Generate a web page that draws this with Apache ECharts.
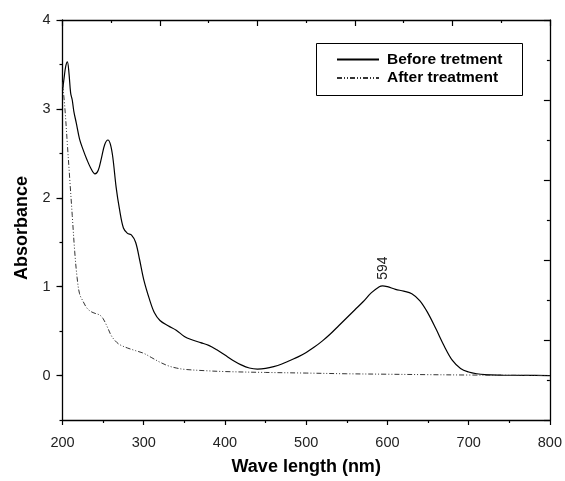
<!DOCTYPE html>
<html><head><meta charset="utf-8">
<script src="https://cdn.jsdelivr.net/npm/echarts@6/dist/echarts.min.js"></script>
<style>html,body{margin:0;padding:0;background:#fff}#c{width:565px;height:481px}</style>
</head><body><div id="c"></div>
<script>
// ---- data ----
var beforeName = 'Before tretment';
var afterName = 'After treatment';
var beforeX = [200,202,204,206,208,210,212,214,217,221,225,230,235,240,244,248,252,256,259,262,266,270,275,280,285,290,295,300,307,313,320,330,340,350,360,370,380,390,400,410,420,430,440,450,460,470,480,490,500,510,520,530,540,550,560,570,580,590,594,600,610,620,630,640,650,660,670,680,690,700,710,720,740,770,800];
var beforeY = [3.2,3.35,3.48,3.53,3.4,3.18,3.1,2.97,2.84,2.66,2.55,2.43,2.33,2.27,2.31,2.45,2.6,2.65,2.6,2.45,2.12,1.88,1.66,1.6,1.58,1.5,1.3,1.08,0.86,0.71,0.62,0.56,0.51,0.44,0.4,0.37,0.34,0.29,0.23,0.17,0.12,0.085,0.073,0.08,0.1,0.13,0.17,0.21,0.26,0.32,0.39,0.47,0.56,0.65,0.74,0.83,0.93,1.0,1.01,1.0,0.97,0.95,0.92,0.84,0.7,0.52,0.33,0.17,0.08,0.04,0.02,0.01,0.005,0.002,0.0];
var afterX = [200,203,206,209,212,215,218,221,225,230,235,240,246,250,255,260,265,270,280,290,300,310,320,330,340,350,375,400,450,500,550,600,650,700,750,800];
var afterY = [3.3,3.0,2.6,2.2,1.8,1.4,1.1,0.92,0.84,0.76,0.72,0.7,0.68,0.64,0.55,0.45,0.39,0.35,0.31,0.28,0.25,0.2,0.15,0.11,0.085,0.07,0.055,0.045,0.035,0.028,0.02,0.015,0.01,0.006,0.003,0.0];
var peakLabel = '594';
var peakX = 594, peakY = 1.01;
var xTicks = [200,300,400,500,600,700,800];
var yTicks = [0,1,2,3,4];

function pairs(xs, ys){ return xs.map(function(x,i){ return [x, ys[i]]; }); }

var chart = echarts.init(document.getElementById('c'), null, {renderer:'canvas'});
var axisLine = {show:true, onZero:false, lineStyle:{color:'#000', width:1.3}};
var tickStyle = {color:'#000', width:1.2};
var font = 'Arial, "Liberation Sans", sans-serif';
chart.setOption({
  animation:false,
  backgroundColor:'#fff',
  grid:{left:62.5, top:20, right:14, bottom:59, containLabel:false},
  xAxis:[
    {type:'value', position:'bottom', min:200, max:800, interval:100,
     axisLine:axisLine, splitLine:{show:false},
     axisTick:{show:true, length:5, lineStyle:tickStyle},
     minorTick:{show:true, splitNumber:2, length:3, lineStyle:tickStyle},
     axisLabel:{show:true, margin:15, fontSize:14.5, color:'#222', fontFamily:font,
       customValues: xTicks},
     name:'Wave length (nm)', nameLocation:'middle', nameGap:38,
     nameTextStyle:{fontSize:18, fontWeight:'bold', color:'#000', fontFamily:font}},
    {type:'value', position:'top', min:0, max:10, interval:2,
     axisLine:axisLine, splitLine:{show:false},
     axisTick:{show:true, inside:true, length:6, lineStyle:tickStyle},
     minorTick:{show:true, splitNumber:2, length:3, lineStyle:tickStyle},
     axisLabel:{show:false}}
  ],
  yAxis:[
    {type:'value', position:'left', min:-0.5, max:4, interval:0.5,
     axisLine:axisLine, splitLine:{show:false},
     axisTick:{show:true, length:3, lineStyle:tickStyle},
     axisLabel:{show:true, margin:12, fontSize:14.5, color:'#222', fontFamily:font,
       customValues: yTicks},
     name:'Absorbance', nameLocation:'middle', nameGap:31,
     nameTextStyle:{fontSize:18, fontWeight:'bold', color:'#000', fontFamily:font, padding:[0,16,0,0]}},
    {type:'value', position:'right', min:0, max:10, interval:2,
     axisLine:axisLine, splitLine:{show:false},
     axisTick:{show:true, inside:true, length:6, lineStyle:tickStyle},
     minorTick:{show:true, splitNumber:2, length:3, lineStyle:tickStyle},
     axisLabel:{show:false}},
    {type:'value', position:'left', offset:0, min:-0.5, max:4, interval:0.5,
     axisLine:{show:false, onZero:false}, splitLine:{show:false},
     axisTick:{show:true, length:6, lineStyle:tickStyle, customValues: yTicks},
     axisLabel:{show:false}}
  ],
  legend:{
    show:true, orient:'vertical', left:336, top:51.5, itemWidth:42, itemHeight:16, itemGap:2.4,
    padding:0,
    itemStyle:{opacity:0},
    textStyle:{fontSize:15.5, fontWeight:'bold', color:'#000', fontFamily:font, lineHeight:16, padding:[0,0,0,3]},
    data:[beforeName, afterName]
  },
  series:[
    {name:beforeName, type:'line', xAxisIndex:0, yAxisIndex:0, showSymbol:false, symbol:'none',
     smooth:0.35, data:pairs(beforeX, beforeY),
     lineStyle:{color:'#000', width:1.2}, itemStyle:{color:'#000'}},
    {name:afterName, type:'line', xAxisIndex:0, yAxisIndex:0, showSymbol:false, symbol:'none',
     smooth:0.35, data:pairs(afterX, afterY),
     lineStyle:{color:'#333', width:1, type:[5,2,1,2,1,2]}, itemStyle:{color:'#333'}}
  ]
});
var pt = chart.convertToPixel({xAxisIndex:0, yAxisIndex:0}, [peakX, peakY]);
chart.setOption({
  graphic:[
    {type:'rect', shape:{x:316.5, y:43.5, width:206, height:52}, style:{fill:'none', stroke:'#000', lineWidth:1}},
    {type:'text', x:pt[0]+1, y:pt[1]-6, rotation:Math.PI/2,
     style:{text:peakLabel, fontSize:14, fontFamily:font, fill:'#222', textAlign:'left', textVerticalAlign:'middle'}}
  ]
});
</script></body></html>
